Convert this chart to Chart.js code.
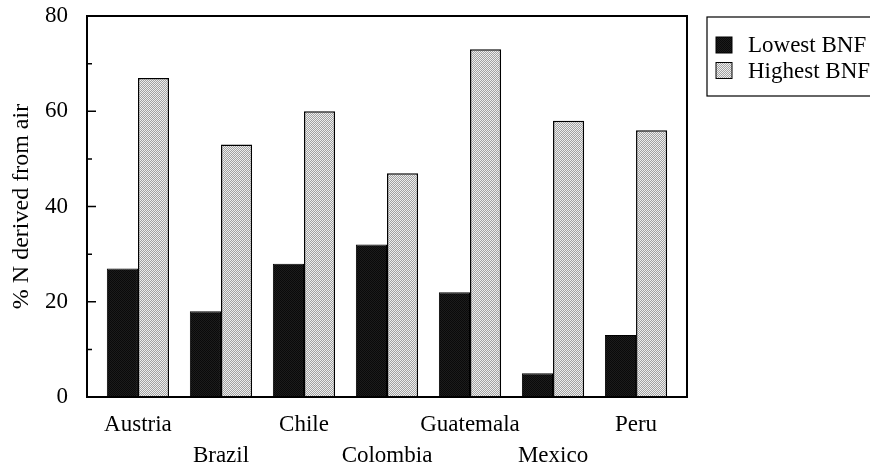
<!DOCTYPE html>
<html>
<head>
<meta charset="utf-8">
<script src="https://cdn.jsdelivr.net/npm/chart.js@4.4.1/dist/chart.umd.min.js"></script>
<style>
  html, body { margin: 0; padding: 0; background: #fff; }
  #wrap { width: 870px; height: 464px; position: relative; }
</style>
</head>
<body>
<div id="wrap"><canvas id="bnfChart" width="870" height="464"></canvas></div>
<script>
// values
const countries = ['Austria', 'Brazil', 'Chile', 'Colombia', 'Guatemala', 'Mexico', 'Peru'];
const lowestBNF = [27, 18, 28, 32, 22, 5, 13];
const highestBNF = [67, 53, 60, 47, 73, 58, 56];
const seriesNames = ['Lowest BNF', 'Highest BNF'];
const yTicks = [0, 20, 40, 60, 80];
const yMinorTicks = [10, 30, 50, 70];

const serif = '"Liberation Serif", "Times New Roman", serif';

// stippled fills, like the printed figure
function makePattern(a, b) {
  const c = document.createElement('canvas');
  c.width = 2; c.height = 2;
  const g = c.getContext('2d');
  g.fillStyle = a; g.fillRect(0, 0, 2, 2);
  g.fillStyle = b; g.fillRect(0, 0, 1, 1); g.fillRect(1, 1, 1, 1);
  return g.createPattern(c, 'repeat');
}
const darkFill = makePattern('#1c1c1c', '#0a0a0a');
const lightFill = makePattern('#a2a2a2', '#eeeeee');

// frame box, inward ticks and the boxed legend
const framePlugin = {
  id: 'frame',
  afterDraw: function (chart) {
    const ctx = chart.ctx;
    const a = chart.chartArea;
    const y = chart.scales.y;
    ctx.save();
    ctx.strokeStyle = '#000';
    ctx.lineWidth = 2;
    ctx.strokeRect(a.left, a.top, a.right - a.left, a.bottom - a.top);
    ctx.lineWidth = 1.5;
    ctx.beginPath();
    yTicks.forEach(function (v) {
      const py = y.getPixelForValue(v);
      ctx.moveTo(a.left, py); ctx.lineTo(a.left + 9, py);
    });
    yMinorTicks.forEach(function (v) {
      const py = y.getPixelForValue(v);
      ctx.moveTo(a.left, py); ctx.lineTo(a.left + 5, py);
    });
    ctx.stroke();

    // legend
    const lx = a.right + 20;
    ctx.lineWidth = 1.2;
    ctx.strokeRect(lx, 17, 200, 79);
    ctx.font = '23px ' + serif;
    ctx.textBaseline = 'middle';
    chart.data.datasets.forEach(function (ds, i) {
      const cy = 45 + i * 25.5;
      ctx.fillStyle = ds.backgroundColor;
      ctx.fillRect(lx + 9, cy - 8, 16, 16);
      ctx.lineWidth = 1;
      ctx.strokeRect(lx + 9, cy - 8, 16, 16);
      ctx.fillStyle = '#000';
      ctx.fillText(ds.label, lx + 41, cy + 1);
    });
    ctx.restore();
  }
};

new Chart(document.getElementById('bnfChart'), {
  type: 'bar',
  data: {
    datasets: [
      {
        label: seriesNames[0],
        data: countries.map(function (c, i) { return { x: i, y: lowestBNF[i] }; }),
        backgroundColor: darkFill,
        borderColor: '#000',
        borderWidth: 1,
        barPercentage: 1,
        categoryPercentage: 0.75
      },
      {
        label: seriesNames[1],
        data: countries.map(function (c, i) { return { x: i, y: highestBNF[i] }; }),
        backgroundColor: lightFill,
        borderColor: '#000',
        borderWidth: 1.5,
        barPercentage: 1,
        categoryPercentage: 0.75
      }
    ]
  },
  options: {
    responsive: false,
    animation: false,
    layout: { padding: { left: 6, right: 183, top: 0, bottom: 0 } },
    plugins: {
      legend: { display: false },
      tooltip: { enabled: false }
    },
    scales: {
      x: {
        type: 'linear',
        min: -0.614,
        max: 6.614,
        offset: false,
        afterBuildTicks: function (axis) {
          axis.ticks = countries.map(function (c, i) { return { value: i }; });
        },
        afterFit: function (axis) { axis.height = 67; },
        grid: { display: false, drawTicks: false },
        border: { display: false },
        ticks: {
          autoSkip: false,
          maxRotation: 0,
          padding: 12.5,
          color: '#000',
          font: { family: serif, size: 23, lineHeight: 1.348 },
          callback: function (v) {
            const name = countries[v];
            return v % 2 === 0 ? name : ['', name];
          }
        }
      },
      y: {
        min: 0,
        max: 80,
        grid: { display: false, drawTicks: false },
        border: { display: false },
        afterBuildTicks: function (axis) {
          axis.ticks = yTicks.map(function (v) { return { value: v }; });
        },
        afterFit: function (axis) {
          axis.width = 81;
          axis.paddingTop = 16;
          axis.paddingBottom = 0;
        },
        ticks: {
          padding: 19,
          color: '#000',
          font: { family: serif, size: 23 }
        },
        title: {
          display: true,
          text: '% N derived from air',
          color: '#000',
          font: { family: serif, size: 24, lineHeight: 1.2 },
          padding: { top: 1, bottom: 9 }
        }
      }
    }
  },
  plugins: [framePlugin]
});
</script>
</body>
</html>
